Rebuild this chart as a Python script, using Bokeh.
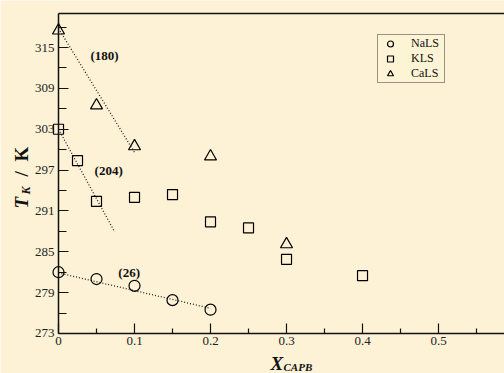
from bokeh.plotting import figure
from bokeh.models import (Range1d, FixedTicker, LinearAxis, Label, Legend)
from bokeh.core.properties import value
from bokeh.embed import file_html
from bokeh.resources import INLINE
import math

# ---- data ----
nals_x = [0.0, 0.05, 0.1, 0.15, 0.2]
nals_y = [282.0, 281.0, 280.0, 277.9, 276.5]

kls_x = [0.0, 0.025, 0.05, 0.1, 0.15, 0.2, 0.25, 0.3, 0.4]
kls_y = [303.0, 298.4, 292.4, 293.0, 293.4, 289.4, 288.5, 283.9, 281.5]

cals_x = [0.0, 0.05, 0.1, 0.2, 0.3]
cals_y = [317.5, 306.5, 300.5, 299.0, 286.1]

# linear fits (dotted lines)
fit_cals_x = [0.0, 0.1]
fit_cals_y = [317.8, 299.6]
fit_kls_x = [0.0, 0.074]
fit_kls_y = [303.0, 287.9]
fit_nals_x = [0.0, 0.2]
fit_nals_y = [281.9, 276.7]

# slope annotations
slope_texts = ["(180)", "(204)", "(26)"]
slope_x = [0.0605, 0.066, 0.093]
slope_y = [313.9, 296.9, 282.0]

x_ticks = [0.0, 0.1, 0.2, 0.3, 0.4, 0.5]
x_tick_labels = ["0", "0.1", "0.2", "0.3", "0.4", "0.5"]
x_minor = [0.05, 0.15, 0.25, 0.35, 0.45, 0.55]
y_ticks = [273, 279, 285, 291, 297, 303, 309, 315]
y_minor = [276, 282, 288, 294, 300, 306, 312, 318]

X_MIN, X_MAX = 0.0, 0.5868
Y_MIN, Y_MAX = 273.0, 320.0

BG = "#fdf2d5"
SERIF = "Liberation Serif"

# frame fills the whole canvas; axes are pinned inside with fixed_location
p = figure(width=504, height=373, output_backend="svg", toolbar_location=None,
           x_range=Range1d(-0.07632, X_MAX), y_range=Range1d(267.125, 321.909),
           min_border=0, min_border_left=0, min_border_right=0,
           min_border_top=0, min_border_bottom=0)
p.background_fill_color = BG
p.border_fill_color = BG
p.outline_line_color = None
p.xgrid.visible = False
p.ygrid.visible = False

xa = p.xaxis[0]
ya = p.yaxis[0]
xa.fixed_location = Y_MIN
xa.bounds = (X_MIN, X_MAX)
ya.fixed_location = X_MIN
ya.bounds = (Y_MIN, Y_MAX)

# top frame line
top = LinearAxis(ticker=FixedTicker(ticks=[]), major_label_text_font_size="0px",
                 major_tick_out=0, major_tick_in=0, minor_tick_out=0, minor_tick_in=0,
                 fixed_location=Y_MAX, bounds=(X_MIN, X_MAX),
                 axis_line_color="#111111", axis_line_width=1.5)
p.add_layout(top, "above")

xa.ticker = FixedTicker(ticks=x_ticks, minor_ticks=x_minor)
xa.major_label_overrides = {t: l for t, l in zip(x_ticks, x_tick_labels)}
ya.ticker = FixedTicker(ticks=y_ticks, minor_ticks=y_minor)

for ax in (xa, ya):
    ax.axis_line_color = "#111111"
    ax.axis_line_width = 1.5
    ax.major_tick_line_color = "#111111"
    ax.minor_tick_line_color = "#111111"
    ax.major_tick_line_width = 1.2
    ax.minor_tick_line_width = 1.2
    ax.major_tick_out = 0
    ax.minor_tick_out = 0
    ax.major_label_text_font = SERIF
    ax.major_label_text_font_size = "13px"
    ax.major_label_text_color = "#222222"
    ax.major_label_standoff = 4
xa.major_tick_in = 10
xa.minor_tick_in = 5
ya.major_tick_in = 10
ya.minor_tick_in = 8

# fit lines
for fx, fy in ((fit_cals_x, fit_cals_y), (fit_kls_x, fit_kls_y), (fit_nals_x, fit_nals_y)):
    p.line(fx, fy, line_color="#222222", line_width=1.3, line_dash="1 2")

r1 = p.scatter(nals_x, nals_y, marker="circle", size=11, fill_color=None,
               line_color="black", line_width=1.2)
r2 = p.scatter(kls_x, kls_y, marker="square", size=10, fill_color=None,
               line_color="black", line_width=1.2)
r3 = p.scatter(cals_x, cals_y, marker="triangle", size=12, fill_color=None,
               line_color="black", line_width=1.2)

p.text(slope_x, slope_y, text=slope_texts, text_font=value(SERIF),
       text_font_size="13px", text_font_style="bold", text_align="center",
       text_baseline="middle", text_color="#111111")

legend = Legend(items=[("NaLS", [r1]), ("KLS", [r2]), ("CaLS", [r3])],
                location=(377, 290), padding=1, spacing=0, margin=0,
                glyph_width=22, glyph_height=15, label_height=15, label_width=32,
                label_standoff=10, label_text_font=SERIF,
                label_text_font_size="12px", label_text_color="#111111",
                background_fill_color=BG, border_line_color="#333333",
                border_line_width=1)
p.add_layout(legend, "center")

# axis titles
lab_kw = dict(x_units="screen", y_units="screen", text_font=SERIF,
              text_color="#111111", text_baseline="alphabetic", text_align="left")
p.add_layout(Label(x=21, y=165, text="T", angle=math.pi / 2, text_font_size="19px",
                   text_font_style="bold italic", **lab_kw))
p.add_layout(Label(x=25, y=179, text="K", angle=math.pi / 2, text_font_size="12px",
                   text_font_style="bold italic", **lab_kw))
p.add_layout(Label(x=21, y=197, text="/", angle=math.pi / 2, text_font_size="19px",
                   text_font_style="bold", **lab_kw))
p.add_layout(Label(x=21, y=212, text="K", angle=math.pi / 2, text_font_size="19px",
                   text_font_style="bold", **lab_kw))
p.add_layout(Label(x=270, y=10, text="X", text_font_size="19px",
                   text_font_style="bold italic", **lab_kw))
p.add_layout(Label(x=283, y=7, text="CAPB", text_font_size="11px",
                   text_font_style="bold italic", **lab_kw))

open("out.html", "w").write(file_html(p, INLINE))
